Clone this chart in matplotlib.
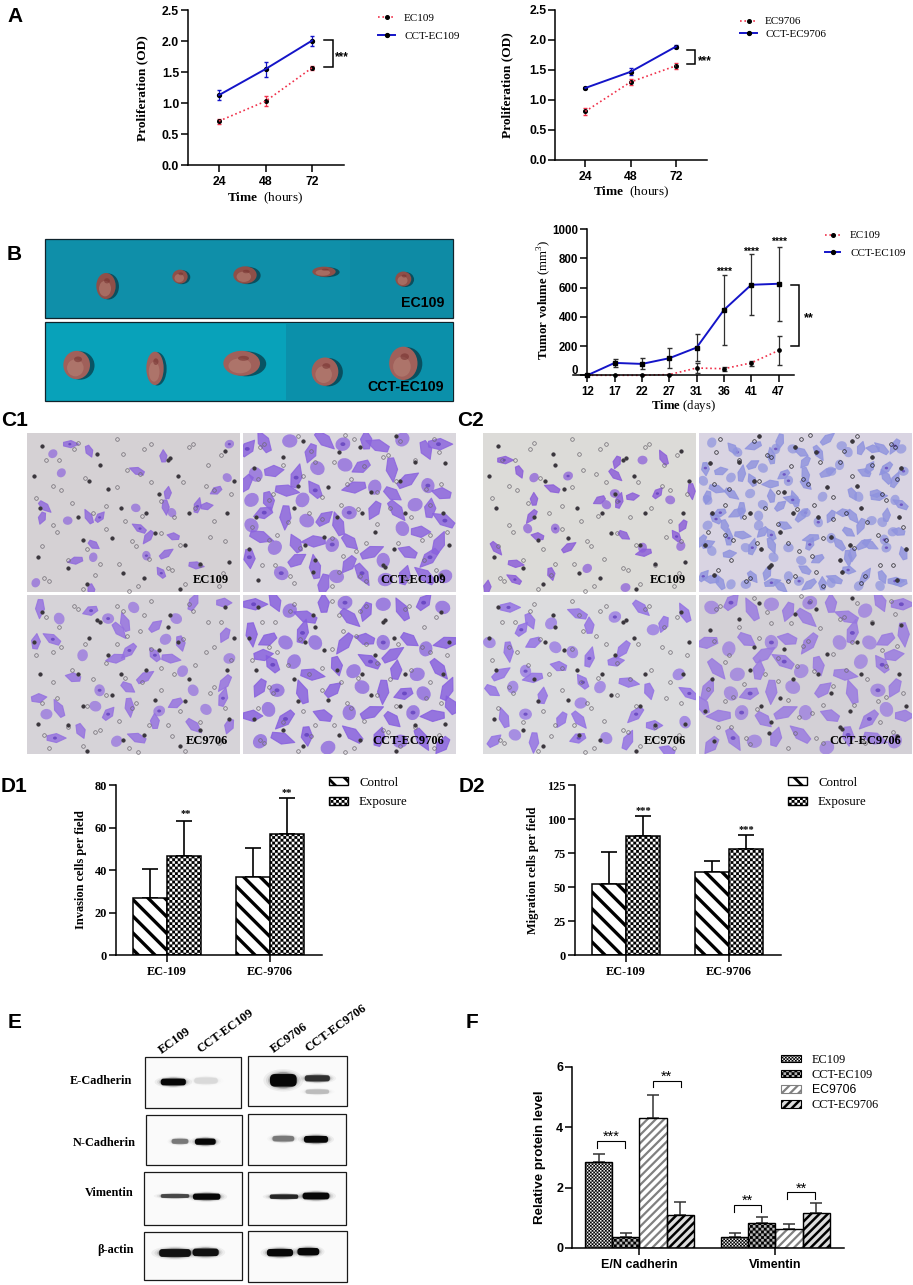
import numpy as np
import matplotlib
matplotlib.use('Agg')
import matplotlib.pyplot as plt
from matplotlib import hatch as mhatch
from matplotlib.path import Path
from matplotlib.patches import Ellipse, FancyBboxPatch, Patch, Polygon, Rectangle
from matplotlib.lines import Line2D
from matplotlib.transforms import ScaledTranslation

# ---- data ----
hours = ['24', '48', '72']
ec109_od = [0.71, 1.03, 1.57]
ec109_od_err = [0.04, 0.08, 0.03]
cct109_od = [1.13, 1.55, 2.01]
cct109_od_err = [0.08, 0.12, 0.08]
ec9706_od = [0.81, 1.30, 1.57]
ec9706_od_err = [0.06, 0.05, 0.05]
cct9706_od = [1.20, 1.47, 1.89]
cct9706_od_err = [0.01, 0.06, 0.03]

days = ['12', '17', '22', '27', '31', '36', '41', '47']
ec109_vol = [0, 0, 0, 5, 50, 45, 85, 170]
ec109_low = [0, 0, 0, 0, 15, 30, 65, 70]
ec109_high = [0, 0, 0, 10, 85, 55, 100, 270]
cct_vol = [0, 85, 78, 117, 190, 448, 620, 627]
cct_low = [0, 55, 40, 50, 100, 205, 415, 370]
cct_high = [0, 115, 120, 185, 280, 690, 830, 880]

cell_groups = ['EC-109', 'EC-9706']
inv_control = [27, 37]
inv_control_top = [40.5, 50.5]
inv_exposure = [46.5, 57]
inv_exposure_top = [63, 74]
mig_control = [52, 61.5]
mig_control_top = [75.5, 69.5]
mig_exposure = [87.5, 78]
mig_exposure_top = [102, 88]

protein_groups = ['E/N cadherin', 'Vimentin']
protein_names = ['EC109', 'CCT-EC109', 'EC9706', 'CCT-EC9706']
protein_means = [[2.85, 0.37], [0.37, 0.82], [4.30, 0.63], [1.10, 1.15]]
protein_tops = [[3.10, 0.48], [0.50, 1.03], [5.07, 0.78], [1.53, 1.48]]

# ---- photo panels (hand read, percent of the panel) ----
sparse_a = [(20,7),(29,11),(16,25),(52,24),(64,15),(95,7),(8,46),(7,53),(19,55),(29,53),(34,53),(51,47),
            (65,46),(89,36),(94,28),(80,46),(84,46),(68,50),(57,65),(69,65),(56,77),(65,76),(31,70),(31,78),
            (23,80),(63,88),(4,94),(79,83),(30,98),(12,13),(53,60),(66,38)]
sparse_b = [(10,17),(17,24),(24,28),(33,35),(24,42),(40,27),(62,26),(63,18),(75,17),(85,16),(82,38),(88,42),
            (98,36),(55,42),(58,45),(64,43),(70,40),(21,60),(23,52),(26,65),(34,60),(40,72),(66,64),(75,72),
            (76,75),(91,65),(93,71),(15,82),(32,88),(49,85),(15,92),(2,97),(67,97),(6,72),(94,58),(62,38)]
medium_a = [(13,10),(25,15),(42,8),(52,10),(60,20),(62,27),(78,18),(95,18),(9,25),(15,28),(38,25),(32,30),
            (48,30),(70,32),(84,28),(92,35),(5,35),(78,40),(93,45),(22,48),(34,40),(55,48),(47,42),(26,62),
            (42,60),(60,62),(73,52),(67,60),(72,70),(65,72),(12,72),(4,70),(95,60),(43,78),(93,75),(38,85),
            (46,82),(60,80),(70,85),(6,92),(30,90),(50,92),(78,95),(92,95),(15,85),(48,65)]
medium_b = [(12,8),(22,16),(32,18),(45,12),(50,20),(62,14),(74,8),(85,18),(80,22),(95,12),(18,22),(3,30),
            (12,35),(24,30),(34,33),(50,40),(62,42),(42,36),(66,34),(36,45),(20,48),(8,50),(4,60),(14,58),
            (24,52),(47,55),(55,58),(68,55),(78,60),(92,50),(97,62),(28,64),(46,68),(45,78),(37,78),(20,75),
            (10,78),(5,92),(15,88),(24,92),(45,90),(58,90),(68,92),(80,82),(95,80),(72,75),(87,98)]
dense_a = [(8,7),(14,10),(25,4),(36,8),(42,5),(53,7),(62,4),(68,12),(78,5),(90,6),(98,10),(52,20),(30,22),
           (44,21),(65,22),(75,28),(86,24),(94,26),(99,32),(6,38),(13,33),(23,30),(30,38),(38,34),(47,34),
           (66,36),(72,42),(80,36),(88,42),(96,42),(5,55),(12,48),(19,45),(28,48),(38,48),(50,50),(55,58),
           (62,54),(70,55),(80,52),(90,50),(96,58),(8,70),(17,62),(25,60),(12,78),(22,75),(34,80),(40,75),
           (50,68),(58,70),(66,68),(75,70),(85,72),(92,65),(97,78),(5,90),(14,90),(24,90),(33,92),(44,88),
           (50,82),(56,90),(66,85),(75,80),(82,88),(62,95)]
dense_b = [(5,6),(15,4),(22,10),(30,14),(38,6),(48,5),(50,14),(58,10),(66,6),(75,10),(85,5),(94,8),(4,24),
           (12,28),(20,30),(28,24),(9,38),(34,30),(48,30),(58,28),(66,30),(70,38),(78,28),(86,34),(96,30),
           (14,44),(24,42),(32,50),(44,44),(52,48),(60,42),(72,48),(82,50),(92,46),(8,58),(16,60),(28,62),
           (42,60),(56,58),(66,60),(76,62),(85,62),(96,60),(4,76),(12,72),(20,78),(38,76),(50,74),(60,74),
           (70,78),(80,74),(90,76),(98,70),(8,92),(18,90),(30,88),(40,96),(52,88),(64,90),(74,92),(84,90),(94,94)]
ring_spots = [(7,8),(15,17),(24,6),(33,13),(42,4),(55,10),(66,17),(78,7),(91,14),(3,27),(12,33),(27,28),(38,35),
              (47,23),(58,31),(71,27),(84,33),(96,38),(6,47),(21,44),(31,50),(44,47),(54,52),(63,43),(76,50),
              (88,55),(14,62),(26,67),(37,60),(49,68),(60,63),(72,70),(93,68),(5,78),(19,80),(34,82),(45,88),
              (57,79),(68,86),(81,82),(92,88),(10,93),(28,95),(52,96),(74,95)]

# lanes of the blots, in 1/3 px of the source crop: centre x, centre y, width, height, darkness
blot_boxes = [(436,170,724,324), (437,344,725,494), (431,517,725,674), (431,695,726,841),
              (744,168,1040,319), (744,343,1038,496), (744,517,1038,674), (744,692,1040,845)]
blot_bands = [(520,246,75,24,1.0), (618,242,70,22,0.14), (540,424,50,18,0.5), (616,425,62,22,1.0),
              (525,588,85,14,0.7), (620,590,82,22,1.0), (525,759,95,28,0.95), (617,757,78,27,0.95),
              (850,241,80,45,1.0), (952,235,75,22,0.8), (952,275,70,16,0.25), (850,416,65,20,0.5),
              (948,418,72,24,1.0), (852,590,85,16,0.85), (948,588,80,24,1.0), (840,758,78,26,1.0),
              (925,755,65,26,1.0)]
# tumours in the two strips: centre x, centre y, width, height (1/3 px, crop starts at y=220)
tumours = [(318,198,58,78), (540,170,46,42), (735,165,70,52), (972,155,70,30), (1210,177,48,45),
           (230,435,80,85), (465,445,52,100), (725,430,110,75), (975,455,80,85), (1210,430,85,100)]

W, H = 913, 1285
plt.rcParams['mathtext.fontset'] = 'custom'
plt.rcParams['mathtext.rm'] = 'Liberation Serif'
plt.rcParams['mathtext.bf'] = 'Liberation Serif:bold'
SERIF = 'Liberation Serif'
SANS = 'Liberation Sans'


# checkerboard fill for the bars, matplotlib has none
class CheckerHatch(mhatch.HatchPatternBase):
    def __init__(self, hatch, density):
        self.num_cells = hatch.count('c') * density
        self.num_vertices = 10 * self.num_cells ** 2

    def set_vertices_and_codes(self, vertices, codes):
        n = self.num_cells
        s = 0.5 / n
        k = 0
        for i in range(n):
            for j in range(n):
                for x, y in ((i / n, j / n), (i / n + s, j / n + s)):
                    vertices[k:k + 5] = [(x, y), (x + s, y), (x + s, y + s), (x, y + s), (x, y)]
                    codes[k:k + 5] = [Path.MOVETO, Path.LINETO, Path.LINETO, Path.LINETO, Path.CLOSEPOLY]
                    k += 5


mhatch._hatch_types.append(CheckerHatch)
mhatch._validate_hatch_pattern = lambda h: None

fig = plt.figure(figsize=(W / 100, H / 100), dpi=100, facecolor='white')
over = fig.add_axes([0, 0, 1, 1], zorder=5)
over.set_xlim(0, W)
over.set_ylim(H, 0)
over.axis('off')


def chart(left, top, right, bottom, ylim, yticks, tick_font, size):
    ax = fig.add_axes([left / W, 1 - bottom / H, (right - left) / W, (bottom - top) / H])
    ax.set_ylim(*ylim)
    ax.set_yticks(yticks)
    for s in ['top', 'right']:
        ax.spines[s].set_visible(False)
    for s in ['left', 'bottom']:
        ax.spines[s].set_linewidth(1.1)
    ax.tick_params(width=1.1, length=5.2, pad=2.5)
    ax.tick_params(axis='y', pad=1.2)
    ax.patch.set_alpha(0)
    ax._tick_font = (tick_font, size)
    return ax


def finish(ax):
    font, size = ax._tick_font
    for lab in ax.get_xticklabels() + ax.get_yticklabels():
        lab.set_family(font)
        lab.set_weight('bold')
        lab.set_size(size)


def labels(ax, xlabel, xpos, ylabel, ypos, size, font=SERIF, yweight='bold'):
    ax.set_ylabel(ylabel, family=font, size=size, weight=yweight, va='center')
    ax.yaxis.set_label_coords(ypos[0], ypos[1], transform=over.transData)
    if xlabel:
        ax.set_xlabel(xlabel, family=font, size=size, weight='normal', va='center')
        ax.xaxis.set_label_coords(xpos[0], xpos[1], transform=over.transData)


def legend(handles, names, x, y, gap, handle_px, text_gap, size, font=SERIF):
    px = size * 100 / 72
    leg = fig.legend(handles, names, loc='upper left', bbox_to_anchor=(x / W, 1 - (y - px * 0.58) / H),
                     frameon=False, borderpad=0, borderaxespad=0, prop={'family': font, 'size': size},
                     handlelength=handle_px / px, handletextpad=text_gap / px,
                     labelspacing=(gap - px * 1.16) / px, handleheight=0.55)
    # the legend copies drop the hatch line width
    for drawn, h in zip(leg.get_patches(), [h for h in handles if isinstance(h, Patch)]):
        drawn.set_hatch_linewidth(h.get_hatch_linewidth())
    return leg


def text(x, y, s, size=8, font=SANS, weight='bold', ha='center', va='center', **kw):
    over.text(x, y, s, fontsize=size, family=font, weight=weight, ha=ha, va=va, **kw)


def bracket(xs, ys, lw=1.1):
    over.plot(xs, ys, color='black', lw=lw, solid_joinstyle='miter')


RED = '#f0304a'
BLUE = '#1414c8'


def prolif_panel(box, first, step, ec, ec_err, cct, cct_err):
    left, top, right, bottom = box
    ax = chart(left, top, right, bottom, (0, 2.5), [0, 0.5, 1, 1.5, 2, 2.5], SANS, 8.8)
    x = np.arange(len(hours))
    ax.set_xlim((left - first) / step, (right - first) / step)
    ax.set_xticks(x, hours)
    ax.errorbar(x, ec, yerr=ec_err, color=RED, ls=':', lw=1.2, capsize=1.5, elinewidth=0.9)
    ax.errorbar(x, cct, yerr=cct_err, color=BLUE, ls='-', lw=1.4, capsize=1.5, elinewidth=0.9)
    ax.plot(x, ec, 'o', color='black', ms=2.6)
    ax.plot(x, cct, 'o', color='black', ms=2.8)
    finish(ax)
    return ax


def line_handles():
    return [Line2D([], [], color=RED, ls=':', lw=1.2, marker='o', mfc='black', mec='black', ms=2.6),
            Line2D([], [], color=BLUE, ls='-', lw=1.4, marker='o', mfc='black', mec='black', ms=2.8)]


# ---- panel A ----
ax = prolif_panel((188, 10.3, 343.5, 165), 219, 46.5, ec109_od, ec109_od_err, cct109_od, cct109_od_err)
labels(ax, r'$\mathbf{Time}$  (hours)', (265.5, 198), 'Proliferation (OD)', (142, 88), 9.6)
legend(line_handles(), ['EC109', 'CCT-EC109'], 378, 20, 21.7, 17, 9, 8)
bracket([324, 332.5, 332.5, 324], [40.3, 40.3, 67.3, 67.3])
text(342, 57, '***', 8.5)

ax = prolif_panel((555.3, 10, 706.7, 160), 585.3, 45.3, ec9706_od, ec9706_od_err, cct9706_od, cct9706_od_err)
labels(ax, r'$\mathbf{Time}$  (hours)', (631, 192.5), 'Proliferation (OD)', (507, 85), 9.6)
legend(line_handles(), ['EC9706', 'CCT-EC9706'], 740, 23.5, 16, 17, 8, 8)
bracket([686.5, 694.5, 694.5, 686.5], [50, 50, 64.3, 64.3])
text(704.5, 61, '***', 8.5)

# ---- panel B chart ----
ax = chart(573.3, 229.3, 793.5, 375.3, (0, 1000), [0, 200, 400, 600, 800, 1000], SANS, 8.3)
x = np.arange(len(days))
ax.set_xlim((573.3 - 587.3) / 27.33, (793.5 - 587.3) / 27.33)
ax.set_xticks(x, days)
ax.spines['left'].set_position(('data', 0))
for vol, low, high, col, ls, lw, mark, ms in ((ec109_vol, ec109_low, ec109_high, RED, ':', 1.2, 'o', 2.4),
                                              (cct_vol, cct_low, cct_high, BLUE, '-', 1.4, 's', 2.5)):
    vol, low, high = np.array(vol), np.array(low), np.array(high)
    ax.errorbar(x, vol, yerr=[vol - low, high - vol], fmt='none', ecolor='#303030', elinewidth=0.9, capsize=1.8)
    ax.plot(x, vol, color=col, ls=ls, lw=lw, clip_on=False)
    ax.plot(x, vol, mark, color='black', ms=ms, clip_on=False)
finish(ax)
zero = ax.get_yticklabels()[0]
zero.set_transform(zero.get_transform() + ScaledTranslation(0, 0.055, fig.dpi_scale_trans))
labels(ax, r'$\mathbf{Time}$ (days)', (683.5, 406), r'$\mathbf{Tumor\ volume}$ (mm$^{3}$)', (544.5, 300), 9.2, yweight='normal')
legend(line_handles(), ['EC109', 'CCT-EC109'], 825, 237.5, 21, 15, 10, 8)
bracket([791, 799.3, 799.3, 791], [284.7, 284.7, 346.3, 346.3])
text(809, 318, '**', 9)
for sx, sy in ((724, 271), (751.3, 251), (778.7, 241)):
    text(sx, sy + 1, '****', 7.5)

# ---- panel B photos ----
over.add_patch(Rectangle((45, 239), 407.5, 78.7, fc='#0f8fa9', ec='#10242c', lw=0.9))
over.add_patch(Rectangle((45, 322.3), 407.5, 78.7, fc='#08a2ba', ec='#10242c', lw=0.9))
over.add_patch(Rectangle((286, 323), 166, 77.3, fc='#0b90aa', ec='none'))
over.add_patch(Rectangle((350, 240), 102, 77, fc='#0b7f98', ec='none', alpha=0.2))
for i, (cx, cy, w, h) in enumerate(tumours):
    cx, cy, w, h = cx / 3, 220 + cy / 3, w / 3, h / 3
    over.add_patch(Ellipse((cx + w * 0.13, cy + 0.5), w * 1.08, h * 1.0, fc='#083440', ec='none', alpha=0.7))
    over.add_patch(Ellipse((cx, cy), w, h, fc='#8f4f48' if i < 5 else '#a0605a', ec='none'))
    over.add_patch(Ellipse((cx - w * 0.05, cy + h * 0.1), w * 0.62, h * 0.6, fc='#b98578', ec='none', alpha=0.55))
    over.add_patch(Ellipse((cx + w * 0.05, cy - h * 0.2), w * 0.3, h * 0.2, fc='#74302e', ec='none', alpha=0.55))
text(444.3, 303, 'EC109', 10.2, ha='right')
text(444.3, 387, 'CCT-EC109', 10.2, ha='right')


# ---- panel C photos ----
def micro(box, bg, spots, color, size, flip=(False, False), name=None, name_pos=None, ring_col='#6f6a72'):
    x0, y0, x1, y1 = box
    w, h = x1 - x0, y1 - y0
    frame = Rectangle((x0, y0), w, h, fc=bg, ec='none')
    over.add_patch(frame)
    for i, (px, py) in enumerate(spots):
        px = 100 - px if flip[0] else px
        py = 100 - py if flip[1] else py
        cx, cy = x0 + px * w / 100, y0 + py * h / 100
        ang = np.radians((i * 67) % 360)
        if i % 3 != 2:
            # spindle shaped cell with a pointed tail
            long_r, wide_r = size * (0.75 if i % 3 == 0 else 0.6), size * 0.3
            u, v = np.array([np.cos(ang), np.sin(ang)]), np.array([-np.sin(ang), np.cos(ang)])
            c = np.array([cx, cy])
            pts = [c + u * long_r, c + v * wide_r + u * 0.1 * size, c - u * long_r * 0.7 + v * wide_r * 0.5,
                   c - u * long_r * 0.7 - v * wide_r * 0.5, c - v * wide_r + u * 0.1 * size]
            cell = Polygon(pts, closed=True, fc=color, ec=color, lw=0.8, joinstyle='round', alpha=0.82)
        else:
            cell = Ellipse((cx, cy), size * 0.8, size * 0.7, angle=np.degrees(ang), fc=color, ec='none', alpha=0.72)
        over.add_patch(cell)
        cell.set_clip_path(frame)
        if i % 5 == 0:
            nuc = Ellipse((cx, cy), size * 0.26, size * 0.2, fc='#5a38b8', ec='none', alpha=0.7)
            over.add_patch(nuc)
            nuc.set_clip_path(frame)
    rings = ring_spots + [(100 - a, b + 3) for a, b in ring_spots]
    rx = [x0 + (100 - a if flip[1] else a) * w / 100 for a, b in rings]
    ry = [y0 + (100 - b if flip[0] else b) * h / 100 for a, b in rings]
    over.plot(rx, ry, 'o', mfc='none', mec=ring_col, mew=0.5, ms=2.6)
    over.plot(rx[::3], ry[::3], 'o', color='#3a363c', ms=1.7)
    if name:
        text(name_pos[0], name_pos[1], name, 9, font=SERIF, ha='right')


top_y, low_y = (433, 592.3), (594.7, 754)
micro((27.3, top_y[0], 240, top_y[1]), '#d5d1d4', sparse_a, '#8f68dc', 12, name='EC109', name_pos=(228.5, 579.7))
micro((243, top_y[0], 455.5, top_y[1]), '#dad7dd', dense_a, '#8a62de', 19, (True, False), 'CCT-EC109', (445.7, 580))
micro((27.3, low_y[0], 240, low_y[1]), '#d6d3d8', medium_a, '#9470e0', 15, (False, True), 'EC9706', (228.5, 741))
micro((243, low_y[0], 455.5, low_y[1]), '#dbd8df', dense_b, '#865ede', 19, (False, False), 'CCT-EC9706', (444.5, 741))
micro((483, top_y[0], 695.7, top_y[1]), '#dcdbd8', sparse_b, '#8a5cd8', 12.5, (False, False), 'EC109', (686, 579.7))
micro((699, top_y[0], 912, top_y[1]), '#d9d4e2', dense_a + dense_b, '#8f93de', 13, (True, True), ring_col='#222226')
micro((483, low_y[0], 695.7, low_y[1]), '#dcdcde', medium_b, '#9270e4', 16, (False, False), 'EC9706', (686, 741))
micro((699, low_y[0], 912, low_y[1]), '#d3d0d6', dense_b, '#9878e0', 19, (True, False), 'CCT-EC9706', (900.7, 741))


# ---- panel D ----
def invasion(box, step, first, ylim, yticks, control, control_top, exposure, exposure_top, ylab, ylab_pos, leg_x, text_x, stars, star_txt):
    left, top, right, bottom = box
    ax = chart(left, top, right, bottom, ylim, yticks, SERIF, 8.8)
    x = np.arange(len(cell_groups))
    width = 34 / step
    ax.set_xlim((left - first) / step, (right - first) / step)
    ax.set_xticks(x, cell_groups)
    for offs, vals, tops, hat, lw in ((-width / 2, control, control_top, '\\\\', 2.4), (width / 2, exposure, exposure_top, 'ccc', 0.1)):
        vals, tops = np.array(vals), np.array(tops)
        ax.errorbar(x + offs, vals, yerr=[np.zeros(2), tops - vals], fmt='none', ecolor='black', elinewidth=1.2, capsize=6, capthick=1.2, zorder=1)
        bars = ax.bar(x + offs, vals, width, facecolor='white', edgecolor='black', hatch=hat, linewidth=1.1, zorder=2)
        for b in bars:
            b.set_hatch_linewidth(lw)
    finish(ax)
    labels(ax, None, None, ylab, ylab_pos, 8.9)
    handles = [Patch(facecolor='white', edgecolor='black', hatch='\\\\', lw=1.0),
               Patch(facecolor='white', edgecolor='black', hatch='ccc', lw=1.0)]
    for h, lw in zip(handles, (2.0, 0.1)):
        h.set_hatch_linewidth(lw)
    legend(handles, ['Control', 'Exposure'], leg_x, 784, 22.7, 19, text_x - leg_x - 19, 9.3)
    for (sx, sy) in stars:
        text(sx, sy + 1, star_txt, 7.5, font=SERIF)


invasion((116, 785.3, 322.3, 955.3), 103, 167, (0, 80), [0, 20, 40, 60, 80], inv_control, inv_control_top, inv_exposure, inv_exposure_top,
         'Invasion cells per field', (81, 870), 329, 359, [(185.5, 813), (287, 791.5)], '**')
invasion((574.7, 785, 781.3, 955.3), 103, 625.7, (0, 125), [0, 25, 50, 75, 100, 125], mig_control, mig_control_top, mig_exposure, mig_exposure_top,
         'Migration cells per field', (533, 870), 788, 818, [(643, 810), (746, 829)], '***')

# ---- panel E blots ----
for bx in blot_boxes:
    x0, y0, x1, y1 = [v / 3 for v in bx]
    y0, y1 = y0 + 1000, y1 + 1000
    frame = Rectangle((x0, y0), x1 - x0, y1 - y0, fc='#fafafa', ec='#1a1a1a', lw=0.9, zorder=3)
    over.add_patch(frame)
for cx, cy, w, h, dark in blot_bands:
    cx, cy, w, h = cx / 3, 1000 + cy / 3, w / 3, h / 3
    for scale, a in ((1.5, 0.05), (1.3, 0.08), (1.15, 0.14), (1.05, 0.25)):
        over.add_patch(Ellipse((cx, cy), w * scale, h * scale, fc='black', ec='none', alpha=a * dark, zorder=4))
    r = h * 0.32
    over.add_patch(FancyBboxPatch((cx - w / 2 + r, cy - h * 0.42 + r), w - 2 * r, h * 0.84 - 2 * r, boxstyle=f'round,pad={r}',
                                  fc='black', ec='none', alpha=dark ** 1.4 * 0.95, zorder=4))
for s, xr, yc in (('E-Cadherin', 132, 1081.5), ('N-Cadherin', 136, 1142.5), ('Vimentin', 134, 1192.5), ('β-actin', 134, 1250)):
    text(xr, yc, s, 8.8, font=SERIF, ha='right')
for s, lx, ly in (('EC109', 164, 1056), ('CCT-EC109', 202, 1055), ('EC9706', 276, 1055), ('CCT-EC9706', 310, 1054)):
    over.text(lx, ly, s, fontsize=9.1, family=SERIF, weight='bold', rotation=36, rotation_mode='anchor', ha='left', va='bottom')

# ---- panel F ----
ax = chart(572, 1066.7, 844, 1248, (0, 6), [0, 2, 4, 6], SANS, 9)
x = np.arange(len(protein_groups))
step = 136
width = 27.2 / step
ax.set_xlim((572 - 639.3) / step, (844 - 639.3) / step)
ax.set_xticks(x, protein_groups)
styles = [('white', 'black', 'ccccc', 0.1), ('#b8b8b8', 'black', 'ccc', 0.1),
          ('white', '#808080', '////', 1.6), ('#dcdcdc', 'black', '////', 1.8)]
handles = []
for i, (name, means, tops, st) in enumerate(zip(protein_names, protein_means, protein_tops, styles)):
    fc, hc, hat, hlw = st
    pos = x + (i - 1.5) * width
    means, tops = np.array(means), np.array(tops)
    ax.errorbar(pos, means, yerr=[np.zeros(2), tops - means], fmt='none', ecolor='#333333', elinewidth=1.1, capsize=4.5, capthick=1.1, zorder=1)
    for b in ax.bar(pos, means, width, facecolor=fc, edgecolor=hc, hatch=hat, linewidth=0, zorder=2):
        b.set_hatch_linewidth(hlw)
    ax.bar(pos, means, width, fill=False, edgecolor='black', linewidth=1.0, zorder=3)
    h = Patch(facecolor=fc, edgecolor=hc, hatch=hat, lw=0.8)
    h.set_hatch_linewidth(hlw)
    handles.append(h)
finish(ax)
labels(ax, None, None, 'Relative protein level', (540.5, 1157), 9.6, font=SANS)
leg = legend(handles, protein_names, 781, 1061, 17.3, 20, 10.5, 8.8)
leg.get_texts()[2].set_family(SANS)
for xa, xb, yt, yb, sy, s in ((412, 495, 393, 413, 373, '***'), (579, 662, 212, 232, 193, '**'),
                              (822, 904, 586, 606, 567, '**'), (982, 1065, 547, 568, 530, '**')):
    xa, xb = 460 + xa / 3, 460 + xb / 3
    yt, yb = 1010 + yt / 3, 1010 + yb / 3
    bracket([xa, xa, xb, xb], [yb, yt, yt, yb], lw=0.8)
    text((xa + xb) / 2, 1010 + sy / 3 + 2, s, 10.5, weight='normal')

# ---- panel letters ----
for s, lx, ly in (('A', 7, 16), ('B', 7, 255), ('C1', 1, 421), ('C2', 457.5, 421), ('D1', 1, 786),
                  ('D2', 459, 786), ('E', 8, 1023), ('F', 466, 1023)):
    text(lx, ly, s, 15, ha='left')

fig.savefig('out.png', dpi=100)
